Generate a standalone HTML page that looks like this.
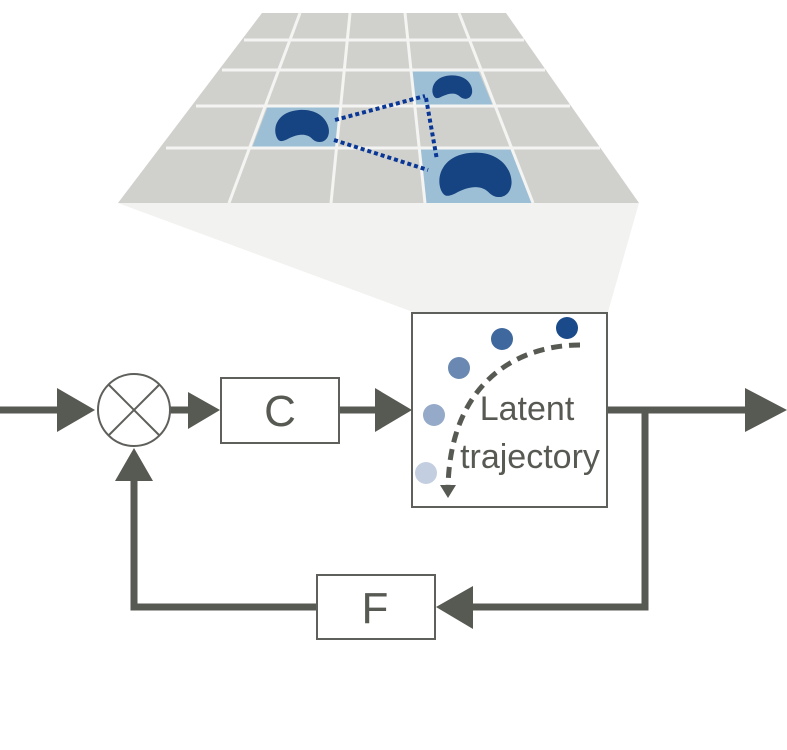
<!DOCTYPE html>
<html><head><meta charset="utf-8"><style>html,body{margin:0;padding:0;background:#fff}svg{display:block}</style></head><body>
<svg width="787" height="750" viewBox="0 0 787 750" xmlns="http://www.w3.org/2000/svg">
<defs>
<path id="k" d="M10,60 C0,45 5,8 45,4 C85,0 100,30 98,48 C96,66 80,70 70,60 C60,48 45,50 30,58 C20,64 14,66 10,60 Z" fill="#164381"/>
</defs>
<polygon points="118,203 639,203 608,312 413,312" fill="#f2f2f0"/>
<polygon points="262,13 506,13 639,203 118,203" fill="#d0d1cd"/>
<polygon points="412,70 478,70 493,106 416,106" fill="#9dbfd6"/>
<polygon points="268,106 341,106 338,148 252,148" fill="#9dbfd6"/>
<polygon points="420,148 513,148 533,203 426,203" fill="#9dbfd6"/>
<g stroke="#f4f4f2" stroke-width="3">
<line x1="244" y1="40" x2="524" y2="40"/>
<line x1="222" y1="70" x2="545" y2="70"/>
<line x1="196" y1="106" x2="570" y2="106"/>
<line x1="166" y1="148" x2="600" y2="148"/>
<line x1="300" y1="13" x2="229" y2="203"/>
<line x1="350" y1="13" x2="331" y2="203"/>
<line x1="405" y1="13" x2="425" y2="203"/>
<line x1="459" y1="13" x2="533" y2="203"/>
</g>
<use href="#k" transform="translate(272,108) scale(0.58,0.52)"/>
<use href="#k" transform="translate(430,74) scale(0.43,0.38)"/>
<use href="#k" transform="translate(435,150) scale(0.78,0.72)"/>
<g stroke="#0a3796" stroke-width="4" stroke-dasharray="4,3" fill="none">
<line x1="335" y1="120" x2="425" y2="96"/>
<line x1="426" y1="98" x2="437" y2="160"/>
<line x1="334" y1="140" x2="428" y2="170"/>
</g>
<g fill="#575953" stroke="#575953">
<line x1="0" y1="410" x2="60" y2="410" stroke-width="7"/>
<polygon points="57,388 95,410 57,432" stroke="none"/>
<line x1="170" y1="410" x2="190" y2="410" stroke-width="7"/>
<polygon points="188,392 220,410 188,429" stroke="none"/>
<line x1="339" y1="410" x2="378" y2="410" stroke-width="7"/>
<polygon points="375,388 412,410 375,432" stroke="none"/>
<line x1="607" y1="410" x2="748" y2="410" stroke-width="7"/>
<polygon points="745,388 787,410 745,432" stroke="none"/>
<polyline points="645,410 645,607 470,607" fill="none" stroke-width="7"/>
<polygon points="473,586 436,607 473,629" stroke="none"/>
<polyline points="317,607 134,607 134,478" fill="none" stroke-width="7"/>
<polygon points="115,481 134,448 153,481" stroke="none"/>
</g>
<g fill="#fff" stroke="#5e605b" stroke-width="2">
<circle cx="134" cy="410" r="36"/>
<rect x="221" y="378" width="118" height="65"/>
<rect x="317" y="575" width="118" height="64"/>
<rect x="412" y="313" width="195" height="194"/>
</g>
<g stroke="#5e605b" stroke-width="2">
<line x1="109" y1="385" x2="159" y2="435"/>
<line x1="159" y1="385" x2="109" y2="435"/>
</g>
<g font-family="Liberation Sans, sans-serif" fill="#575953" text-anchor="middle">
<text x="280" y="426" font-size="44">C</text>
<text x="375" y="623" font-size="44">F</text>
<text x="527" y="420" font-size="34">Latent</text>
<text x="530" y="468" font-size="34">trajectory</text>
</g>
<circle cx="567" cy="328" r="11" fill="#1b4a8a"/>
<circle cx="502" cy="339" r="11" fill="#3f689e"/>
<circle cx="459" cy="368" r="11" fill="#6a88b2"/>
<circle cx="434" cy="415" r="11" fill="#94aac8"/>
<circle cx="426" cy="473" r="11" fill="#c3cfe0"/>
<path d="M580,345 C520,345 450,380 448,488" fill="none" stroke="#575953" stroke-width="5" stroke-dasharray="11,7"/>
<polygon points="440,485 456,485 448,498" fill="#575953"/>
</svg>
</body></html>
